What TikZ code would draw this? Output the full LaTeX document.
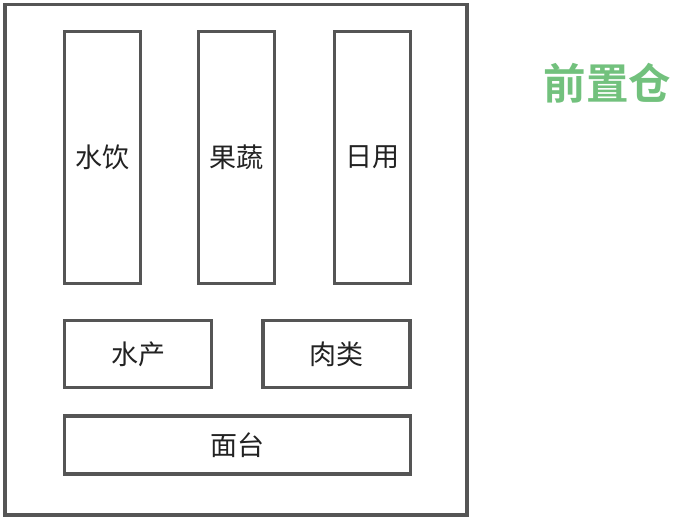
\documentclass[tikz,border=0pt]{standalone}
\usepackage{fontspec}
\newfontfamily\cjk{Noto Sans CJK SC}
\newfontfamily\cjkb{Noto Sans CJK SC Bold}
\definecolor{boxgray}{HTML}{555555}
\definecolor{titlegreen}{HTML}{72C17D}
\definecolor{txt}{HTML}{222222}
\begin{document}
\begin{tikzpicture}[x=1pt,y=-1pt,
  shelf/.style={draw=boxgray,line width=3.2pt,fill=white,inner sep=0pt,
    font=\cjk\fontsize{27}{32}\selectfont,text=txt}]
\useasboundingbox (0,0) rectangle (686,518);
\node[draw=boxgray,line width=3.2pt,minimum width=462pt,minimum height=510.5pt,inner sep=0pt] (store) at (236,259.75) {};
\node[shelf,minimum width=76pt,minimum height=252pt] (shuiyin) at (102.5,157.5) {水饮};
\node[shelf,minimum width=76pt,minimum height=252pt] (guoshu) at (236.5,157.5) {果蔬};
\node[shelf,minimum width=76pt,minimum height=252pt] (riyong) at (372.5,157.5) {日用};
\node[shelf,minimum width=147pt,minimum height=67pt] (shuichan) at (138,354) {水产};
\node[shelf,minimum width=147pt,minimum height=67pt] (roulei) at (336.5,354) {肉类};
\node[shelf,minimum width=346pt,minimum height=58pt] (miantai) at (237.5,445) {面台};
\node[text=titlegreen,font=\cjkb\fontsize{42.5}{50}\selectfont,inner sep=0pt] (title) at (607.5,83) {前置仓};
\end{tikzpicture}
\end{document}
